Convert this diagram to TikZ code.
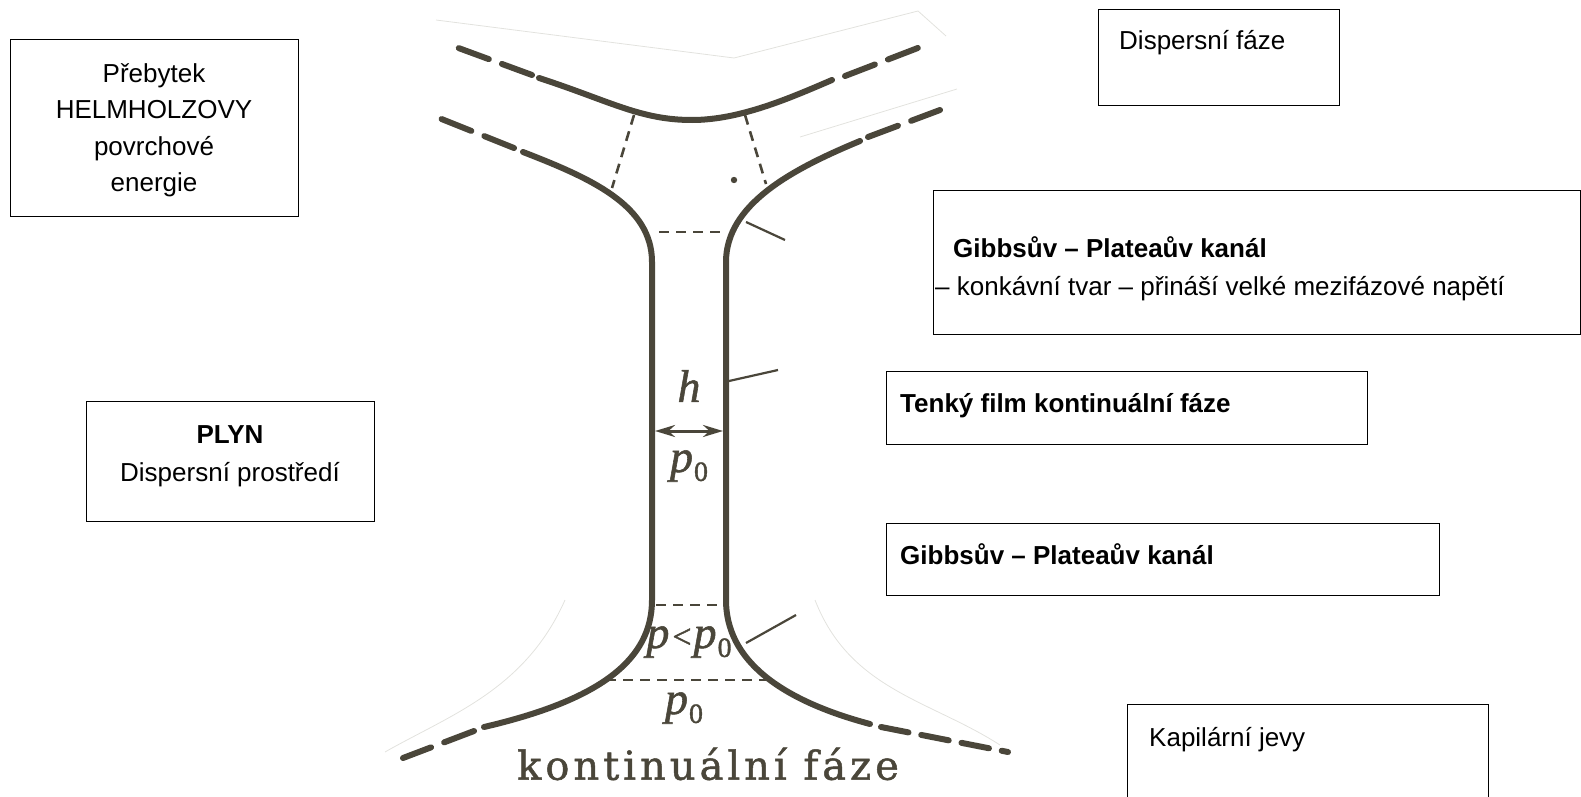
\documentclass[tikz,border=0pt]{standalone}
\usepackage{fontspec}
\setmainfont{Liberation Sans}
\newfontfamily\printfont[LetterSpace=10,FakeBold=1.2]{DejaVu Serif}
\newfontfamily\symfont[FakeBold=1.2]{Liberation Serif}
\usetikzlibrary{arrows.meta}
\definecolor{ink}{RGB}{74,70,58}
\definecolor{faint}{RGB}{226,226,222}
% italic p with an upright lowered 0
\newcommand\pzero{\textit{p}\kern1pt\raisebox{-9pt}{\fontsize{28}{28}\selectfont 0}}
\begin{document}
\begin{tikzpicture}[x=1pt,y=-1pt,
  wall/.style={draw=ink,line width=6pt,line cap=round},
  wallext/.style={wall,dash pattern=on 32pt off 14pt},
  guide/.style={draw=ink,line width=2.6pt,dash pattern=on 10pt off 7pt},
  leader/.style={draw=ink,line width=2.2pt},
  fold/.style={draw=faint,line width=0.8pt},
  box/.style={draw=black,line width=1.3pt,anchor=north west,inner sep=0pt},
  txt/.style={font=\fontsize{26}{36.5}\selectfont,inner sep=0pt},
  bold/.style={txt,font=\fontsize{26}{36.5}\selectfont\bfseries},
  sym/.style={text=ink,inner sep=0pt,font=\symfont\fontsize{46}{48}\selectfont}]
\useasboundingbox (0,0) rectangle (1581,797);

% faint edges of the printed sheet
\draw[fold] (436,20) -- (734,58) -- (918,11) -- (946,36);
\draw[fold] (800,137) -- (957,89);
\draw[fold] (385,752) .. controls (450,715) and (525,690) .. (565,600);
\draw[fold] (1000,745) .. controls (930,700) and (850,690) .. (815,600);

% upper lamella
\draw[wall] (539,78) .. controls (610,101) and (640,120) .. (692,120)
            .. controls (740,120) and (790,98) .. (832,80);
\draw[wallext] (532,75) -- (453,46);
\draw[wallext] (845,76) -- (923,46);

% left wall of the film with its channel
\draw[wall] (523,152) .. controls (590,178) and (652,205) .. (652,262)
            -- (652,600) .. controls (652,660) and (600,700) .. (484,727);
\draw[wallext] (514,148) -- (434,116);
\draw[wallext] (474,731) -- (403,758);

% right wall of the film with its channel
\draw[wall] (860,141) .. controls (790,170) and (726,205) .. (726,262)
            -- (726,600) .. controls (726,660) and (780,700) .. (870,724);
\draw[wallext] (868,137) -- (940,110);
\draw[wallext,dash pattern=on 28pt off 13pt] (881,727) -- (1008,752);

% construction lines
\draw[guide] (634,115) -- (612,188);
\draw[guide] (745,115) -- (766,184);
\draw[guide] (659,232) -- (723,232);
\draw[guide] (656,605) -- (722,605);
\draw[guide] (606,680) -- (771,680);
\fill[ink] (734,180) circle (3.2);

% leaders from the walls
\coordinate (l1) at (785,240);
\coordinate (l2) at (778,370);
\coordinate (l3) at (796,615);
\draw[leader] (746,222) -- (l1);
\draw[leader] (729,381) -- (l2);
\draw[leader] (746,643) -- (l3);

% film thickness
\coordinate (hl) at (655,431);
\coordinate (hr) at (723,431);
\draw[draw=ink,line width=3pt,{Stealth[length=20pt,width=12pt]}-{Stealth[length=20pt,width=12pt]}] (hl) -- (hr);

\node[sym] (h) at (689,386) {\textit{h}};
\node[sym] (p1) at (689,466) {\pzero};
\node[sym] (p2) at (689,642) {\textit{p}\kern3pt{\fontsize{34}{34}\selectfont<}\kern2pt\pzero};
\node[sym] (p3) at (684,708) {\pzero};
\node[text=ink,inner sep=0pt,font=\printfont\fontsize{40}{44}\selectfont] (kf) at (708,764) {kontinuální fáze};

% text boxes
\node[box,minimum width=288,minimum height=177] (helm) at (10,39) {};
\node[txt,align=center] (helmt) at (154,130) {Přebytek\\HELMHOLZOVY\\povrchové\\energie};

\node[box,minimum width=241,minimum height=96] (disp) at (1098,9) {};
\node[txt,anchor=base west] (dispt) at (1119,50) {Dispersní fáze};

\node[box,minimum width=647,minimum height=144] (gp1) at (933,190) {};
\node[bold,anchor=base west] (gp1t) at (953,257) {Gibbsův – Plateaův kanál};
\node[txt,anchor=base west] (gp1s) at (935,295) {– konkávní tvar – přináší velké mezifázové napětí};

\node[box,minimum width=481,minimum height=73] (film) at (886,371) {};
\node[bold,anchor=base west] (filmt) at (900,412) {Tenký film kontinuální fáze};

\node[box,minimum width=288,minimum height=120] (plyn) at (86,401) {};
\node[txt,align=center,font=\fontsize{26}{38}\selectfont] (plynt) at (230,456) {\textbf{PLYN}\\Dispersní prostředí};

\node[box,minimum width=553,minimum height=72] (gp2) at (886,523) {};
\node[bold,anchor=base west] (gp2t) at (900,564) {Gibbsův – Plateaův kanál};

\node[box,minimum width=361,minimum height=110] (kap) at (1127,704) {};
\node[txt,anchor=base west] (kapt) at (1149,746) {Kapilární jevy};
\end{tikzpicture}
\end{document}
